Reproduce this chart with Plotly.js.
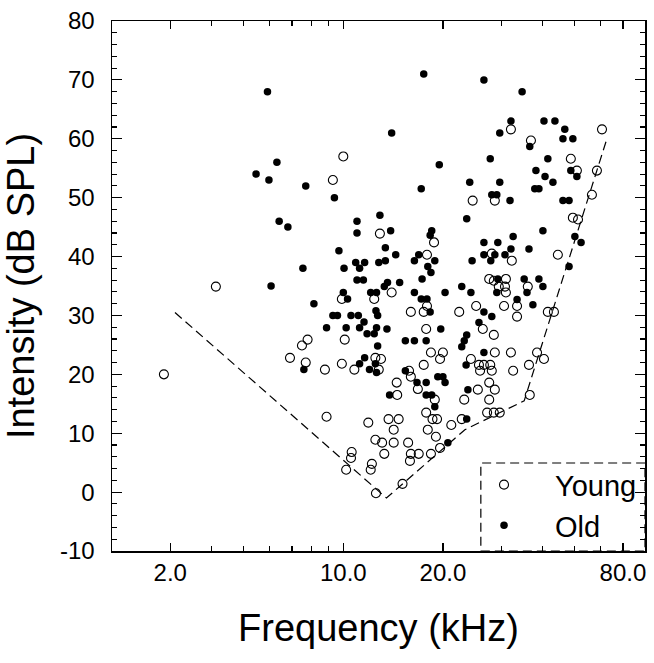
<!DOCTYPE html>
<html><head><meta charset="utf-8">
<script src="https://cdn.plot.ly/plotly-3.0.1.min.js"></script>
<style>html,body{margin:0;padding:0;background:#fff}#chart{width:654px;height:663px}</style>
</head><body><div id="chart"></div>
<script>
// Young animals (open circles): characteristic frequency (kHz) and threshold (dB SPL)
const youngFreq = [10.0,9.3,12.9,32.1,60.5,36.9,48.7,50.8,58.4,56.4,24.6,28.7,49.4,51.2,18.8,17.9,28.1,32.3,44.5,27.6,31.0,
  4.12,9.9,12.4,7.8,7.5,10.1,6.9,7.7,8.8,9.9,10.8,12.5,12.8,2.87,8.9,11.9,12.5,10.6,10.55,10.2,12.2,12.1,12.55,
  28.5,29.5,30.8,31.0,36.1,33.5,30.6,33.5,41.5,43.3,14.0,17.9,17.5,16.0,22.4,25.2,26.4,28.5,28.7,32.1,24.3,25.7,26.6,27.8,28.1,25.9,32.6,36.4,38.5,40.4,
  27.6,28.7,25.5,23.2,27.6,27.2,28.5,29.7,22.8,36.6,21.2,19.6,18.4,19.05,18.0,18.6,19.2,17.8,18.9,16.8,15.8,16.0,14.5,14.55,13.0,17.8,18.4,20.0,19.6,17.5,
  13.7,14.7,14.2,13.1,14.2,13.3,15.7,16.0,16.9,15.9,15.1];
const youngDb = [57,53,43.9,61.6,61.6,59.7,56.6,54.6,54.6,50.5,49.5,49.5,46.6,46.3,42.4,40.3,40.5,39.3,40.3,36.2,36.2,
  34.9,32.8,32.8,25.9,24.9,25.9,22.8,22.0,20.8,21.8,20.8,22.8,20.8,20,12.8,11.8,8.9,6.8,5.8,3.8,4.8,3.8,-0.2,
  35.9,34.9,34.9,33.9,34.9,31.6,31.6,29.8,30.6,30.6,33.9,31.6,30.6,30.6,30.6,31.6,27.7,26.7,23.7,23.7,22.6,21.6,21.6,21.6,20.6,20.6,20.6,21.6,23.7,22.6,
  18.6,17.4,17.4,15.7,15.7,13.5,13.5,13.5,12.4,16.5,11.4,7.5,6.5,9.4,10.6,12.4,12.4,13.5,15.7,17.5,20.6,19.6,18.6,16.5,22.6,27.7,23.7,23.7,22.6,21.6,
  12.4,12.4,10.6,8.4,8.4,6.5,8.4,6.5,6.5,5.3,1.4];

// Old animals (filled circles)
const oldFreq = [5.9,6.3,5.45,5.96,7.7,9.4,6.4,6.8,11.0,11.0,12.9,9.7,7.55,10.05,10.9,11.6,11.2,12.8,11.0,11.5,
  17.5,26.6,34.7,32.1,40.4,43.6,46.7,14.0,29.7,36.6,46.1,49.4,27.8,41.5,19.5,17.2,38.2,40.7,43.0,48.7,50.8,24.1,29.7,37.9,39.0,28.1,29.1,31.9,46.1,48.1,23.6,
  13.9,18.5,18.3,40.1,50.1,52.3,13.4,13.4,14.4,16.4,16.9,18.9,18.0,18.4,17.3,26.6,29.3,26.6,28.7,30.8,27.9,32.1,32.6,24.5,36.4,48.1,29.3,35.2,39.0,13.6,14.8,
  6.05,8.15,10.0,10.3,12.1,9.3,9.6,10.55,11.1,12.55,12.7,11.55,8.9,10.2,11.2,11.8,12.4,12.6,12.7,7.6,11.2,11.6,12.0,12.5,12.6,
  13.3,29.1,35.9,40.1,33.5,37.4,12.6,16.4,17.2,17.9,18.3,20.3,22.8,24.3,26.6,28.1,25.7,23.6,23.2,22.8,26.6,23.5,23.8,23.6,20.7,18.9,17.8,18.5,16.7,17.8,19.3,20.0,15.4,20.3,13.8,13.55,15.4,16.4,17.8,19.7];
const oldDb = [68,56,54,53,52,50,46,45,46,44,47,41,38,38,39,39,38,39,36,36,
  71,70,68,63,63,63,61.6,61,61,58.7,60,60,56.6,56.6,55.6,51.5,54.6,53.6,52.6,54.6,53.6,52.6,52.6,51.5,51.5,50.5,50.5,49.5,49.5,49.5,46.4,
  44.4,44.4,43.6,44.4,43.4,42.4,41.5,39.3,40.3,39.3,40.3,39.3,38.3,37.3,36.2,42.4,42.4,40.3,40.3,40.3,39.3,41.3,43.4,39.3,41.3,38.3,36.2,36.2,36.2,35.6,35.6,
  35,32,33.9,32.8,33.9,30,30,30,30,30.8,30,28.9,27.9,27.9,27.9,26.9,26.9,27.9,24.8,20.8,21.8,22.8,20.8,21.8,20.3,
  34.9,33.9,33.9,34.9,32.7,31.8,33.9,33.9,32.8,32.8,30.6,33.9,34.9,33.9,30.6,29.8,28.8,26.7,25.7,24.7,23.7,21.6,17.4,12.4,8.4,14.5,16.5,16.5,18.6,18.6,19.6,19.6,20.6,18.6,16.5,27.7,25.7,25.7,25.7,27.7];

// Dashed threshold boundary
const thresholdFreq = [3.1, 13.5, 23.3, 35.2, 62.2];
const thresholdDb = [30.5, -1.0, 10.6, 15.5, 59.5];

// Axis tick labels
const xTickVals = [3, 10, 20, 70];
const xTickText = ['2.0', '10.0', '20.0', '80.0'];
const xMinorVals = [4, 5, 6, 7, 8, 9, 30, 40, 50, 60];
const yTickVals = [-10, 0, 10, 20, 30, 40, 50, 60, 70, 80];
const yTickText = ['-10', '0', '10', '20', '30', '40', '50', '60', '70', '80'];

const FONT = 'Arial, "Liberation Sans", Helvetica, sans-serif';

const traces = [
  {x: thresholdFreq, y: thresholdDb, type: 'scatter', mode: 'lines', showlegend: false, hoverinfo: 'skip',
   line: {color: '#000', width: 1.2, dash: '9px,5px'}},
  {x: youngFreq, y: youngDb, type: 'scatter', mode: 'markers', name: 'Young',
   marker: {symbol: 'circle-open', size: 9, color: '#000', line: {width: 1.1, color: '#000'}}},
  {x: oldFreq, y: oldDb, type: 'scatter', mode: 'markers', name: 'Old',
   marker: {symbol: 'circle', size: 7.5, color: '#000'}}
];

const layout = {
  width: 654, height: 663,
  margin: {l: 112, r: 9, t: 21, b: 112},
  paper_bgcolor: '#fff', plot_bgcolor: '#fff',
  font: {family: FONT, color: '#000'},
  showlegend: true,
  legend: {x: 0.6398, y: 0.173, xanchor: 'left', yanchor: 'top', bgcolor: 'rgba(0,0,0,0)', borderwidth: 0,
           font: {family: FONT, size: 29, color: '#000'}, itemwidth: 92},
  xaxis: {
    type: 'log', range: [Math.log10(2.0), Math.log10(81.6)],
    showline: true, linecolor: '#000', linewidth: 1.5, mirror: 'ticks',
    showgrid: false, zeroline: false,
    ticks: 'inside', ticklen: 8, tickwidth: 1.2, tickcolor: '#000',
    tickmode: 'array', tickvals: xTickVals, ticktext: xTickText,
    tickfont: {family: FONT, size: 24, color: '#000'}, ticklabelstandoff: 0,
    minor: {tickmode: 'array', tickvals: xMinorVals, ticks: 'inside', ticklen: 5, tickwidth: 1.2, tickcolor: '#000', showgrid: false},
    title: {text: 'Frequency (kHz)', font: {family: FONT, size: 38, color: '#000'}, standoff: 29},
    automargin: false
  },
  yaxis: {
    range: [-10, 80],
    showline: true, linecolor: '#000', linewidth: 1.5, mirror: 'ticks',
    showgrid: false, zeroline: false,
    ticks: 'inside', ticklen: 10, tickwidth: 1.2, tickcolor: '#000',
    tickmode: 'array', tickvals: yTickVals, ticktext: yTickText,
    tickfont: {family: FONT, size: 24, color: '#000'}, ticklabelstandoff: 11,
    minor: {dtick: 2, ticks: 'inside', ticklen: 5, tickwidth: 1.2, tickcolor: '#000', showgrid: false},
    title: {text: 'Intensity (dB SPL)', font: {family: FONT, size: 38, color: '#000'}, standoff: 14},
    automargin: false
  },
  shapes: [
    {type: 'rect', xref: 'paper', yref: 'paper', x0: 0.692, x1: 1.0, y0: 0, y1: 0.166,
     line: {color: '#000', width: 1.2, dash: '9px,5px'}, fillcolor: 'rgba(0,0,0,0)', layer: 'above'}
  ]
};

Plotly.newPlot('chart', traces, layout, {displayModeBar: false, staticPlot: true});
</script>
</body></html>
